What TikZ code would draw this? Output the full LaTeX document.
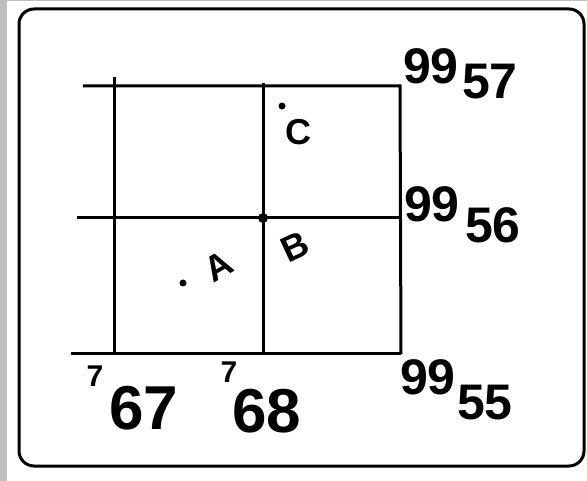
\documentclass[tikz,border=0pt]{standalone}
\usepackage{fontspec}
\setmainfont{Liberation Sans}

\begin{document}
\begin{tikzpicture}[x=1pt, y=-1pt,
  grid/.style={line width=3pt},
  dot/.style={circle, fill, inner sep=0pt, minimum size=7pt},
  lbl/.style={inner sep=0pt, font=\fontsize{50}{50}\selectfont\bfseries},
  big/.style={inner sep=0pt, font=\fontsize{62}{62}\selectfont\bfseries},
  tick/.style={inner sep=0pt, font=\fontsize{30}{30}\selectfont\bfseries},
  letter/.style={inner sep=0pt, font=\fontsize{36}{36}\selectfont\bfseries}]
\useasboundingbox (0,0) rectangle (587,481);
\fill[black!25] (0,0) rectangle (7,481);
\fill[black!25] (0,0) rectangle (587,1.5);
\draw[line width=3pt, rounded corners=15pt] (19,9) rectangle (584,466);
% grid
\coordinate (t1) at (83,86);  \coordinate (t2) at (400,86);
\coordinate (m1) at (77,218); \coordinate (m2) at (400,218);
\coordinate (b1) at (71,354); \coordinate (b2) at (401,354);
\coordinate (l1) at (114,77); \coordinate (l2) at (114,354);
\coordinate (c1) at (263,83); \coordinate (c2) at (263,354);
\draw[grid] (t1) -- (t2) -- (b2 |- b1);
\draw[grid] (m1) -- (m2);
\draw[grid] (b1) -- (b2);
\draw[grid] (l1) -- (l2);
\draw[grid] (c1) -- (c2);
% points
\node[dot, minimum size=10pt] (pB) at (263,218) {};
\node[dot] (pC) at (282,106) {};
\node[dot] (pA) at (183,283) {};
\node[letter] (lC) at (298,132) {C};
\node[letter, rotate=25] (lB) at (295,247) {B};
\node[letter, rotate=30] (lA) at (219,266) {A};
% northings
\node[lbl] (n57a) at (431,66) {99};
\node[lbl] (n57) at (490,82) {57};
\node[lbl] (n56a) at (432,204) {99};
\node[lbl] (n56) at (493,225) {56};
\node[lbl] (n55a) at (428,377) {99};
\node[lbl] (n55) at (485,403) {55};
% eastings
\node[tick] (e67a) at (95,376) {7};
\node[big] (e67) at (144,408) {67};
\node[tick] (e68a) at (229,372) {7};
\node[big] (e68) at (267,411) {68};
\end{tikzpicture}
\end{document}
